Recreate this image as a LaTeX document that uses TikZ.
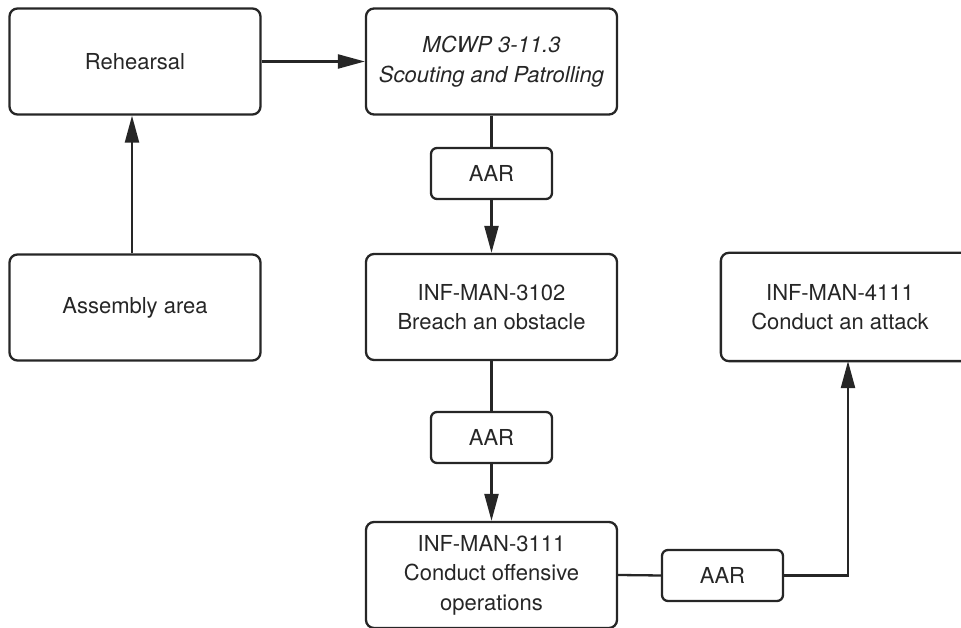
\documentclass[tikz,border=0pt]{standalone}
\usepackage{fontspec}
\setmainfont{TeX Gyre Heros}
\usetikzlibrary{arrows.meta}
\begin{document}
\begin{tikzpicture}[x=1pt,y=1pt,
  every node/.style={font=\fontsize{22}{29.5}\selectfont, text=black!85},
  stepbox/.style={draw=black!85, line width=2.3pt, rounded corners=8pt,
    minimum width=251pt, minimum height=106pt, align=center, inner sep=0pt},
  aarbox/.style={draw=black!85, line width=2.3pt, rounded corners=6pt,
    minimum width=121pt, minimum height=51pt, inner sep=0pt},
  link/.style={draw=black!85, line width=2.3pt},
  flow/.style={link, -{Triangle[length=27pt,width=14pt]}}
]
\useasboundingbox (0,0) rectangle (961,628);

% main steps
\node[stepbox] (reh) at (135,566.5) {Rehearsal};
\node[stepbox] (mcwp) at (491.5,566.5) {\itshape MCWP 3-11.3\\\itshape Scouting and Patrolling};
\node[stepbox] (asm) at (135,320.5) {Assembly area};
\node[stepbox] (b3102) at (491.5,321) {INF-MAN-3102\\Breach an obstacle};
\node[stepbox] (b3111) at (491.5,53) {INF-MAN-3111\\Conduct offensive\\operations};

% last step: its frame runs on past the right edge
\node[stepbox, draw=none, minimum width=236pt] (b4111) at (840,321) {INF-MAN-4111\\Conduct an attack};
\draw[link, rounded corners=8pt] (b4111.north west) rectangle ([xshift=40pt]b4111.south east);

% after action reviews
\node[aarbox] (aar1) at (491.5,454.5) {AAR};
\node[aarbox] (aar2) at (491.5,190.5) {AAR};
\node[aarbox] (aar3) at (722.5,52.5) {AAR};

% connectors
\draw[flow] ([xshift=-3pt]asm.north) -- ([xshift=-3pt]reh.south);
\draw[flow] (reh.east) -- (mcwp.west);
\draw[link] (mcwp.south) -- (aar1.north);
\draw[flow] (aar1.south) -- (b3102.north);
\draw[link] (b3102.south) -- (aar2.north);
\draw[flow] (aar2.south) -- (b3111.north);
\draw[link] (b3111.east) -- (aar3.west);
\draw[flow] (aar3.east) -| ([xshift=8pt]b4111.south);
\end{tikzpicture}
\end{document}
